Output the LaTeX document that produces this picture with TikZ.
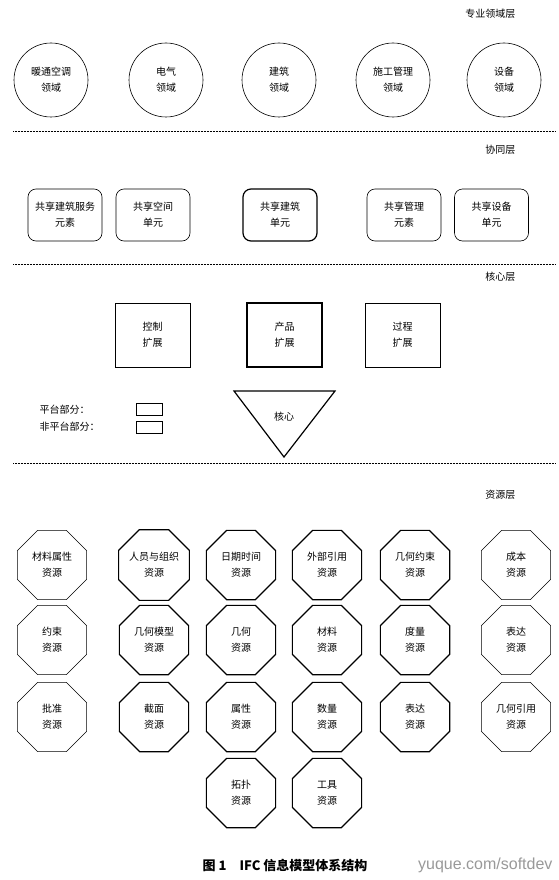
\documentclass[tikz,border=0pt]{standalone}
\usepackage{fontspec}
\setmainfont{Noto Sans CJK SC}
\newfontfamily\markfont{Liberation Sans}
\usetikzlibrary{shapes.geometric}

\begin{document}
\begin{tikzpicture}[x=1pt, y=-1pt,
		every node/.style={font=\fontsize{10}{16}\selectfont, align=center},
		thinline/.style={line width=0.6pt},
		platform/.style={line width=1.2pt},
		fieldcircle/.style={circle, draw, thinline, minimum size=74pt, inner sep=0pt},
		sharebox/.style={draw, thinline, rounded corners=8pt, minimum width=74pt, minimum height=52pt},
		extbox/.style={draw, thinline, minimum width=75pt, minimum height=64pt},
		resbox/.style={regular polygon, regular polygon sides=8, draw, thinline, minimum size=75pt, inner sep=0pt},
		layer/.style={anchor=east},
		divider/.style={line width=0.5pt, dash pattern=on 0.6pt off 0.9pt}]
	\useasboundingbox (0,0) rectangle (558,880);

	% domain layer
	\node[layer] (l-field) at (519,14) {专业领域层};
	\node[fieldcircle] (hvac) at (51,80) {暖通空调\\领域};
	\node[fieldcircle] (elec) at (166,80) {电气\\领域};
	\node[fieldcircle] (arch) at (279,80) {建筑\\领域};
	\node[fieldcircle] (cons) at (393,80) {施工管理\\领域};
	\node[fieldcircle] (equip) at (504,80) {设备\\领域};
	\draw[divider] (13,131) -- (555,131);

	% interoperability layer
	\node[layer] (l-share) at (519,150) {协同层};
	\node[sharebox] (s-service) at (65,215) {共享建筑服务\\元素};
	\node[sharebox] (s-space) at (153,215) {共享空间\\单元};
	\node[sharebox, platform] (s-build) at (280,215) {共享建筑\\单元};
	\node[sharebox] (s-manage) at (404,215) {共享管理\\元素};
	\node[sharebox] (s-equip) at (491.5,215) {共享设备\\单元};
	\draw[divider] (13,264) -- (555,264);

	% core layer
	\node[layer] (l-core) at (519,277) {核心层};
	\node[extbox] (control) at (152.5,335) {控制\\扩展};
	\node[extbox, platform] (product) at (284.5,335) {产品\\扩展};
	\node[extbox] (process) at (402.5,335) {过程\\扩展};
	\coordinate (tri-a) at (234,391);
	\coordinate (tri-b) at (335,391);
	\coordinate (tri-c) at (284,457);
	\draw[platform, line join=miter] (tri-a) -- (tri-b) -- (tri-c) -- cycle;
	\node (kernel) at (284,417) {核心};

	\node[anchor=west] (plat-text) at (36,410) {平台部分：};
	\node[anchor=west] (nonplat-text) at (36,427) {非平台部分：};
	\node[draw, platform, minimum width=26pt, minimum height=12pt, inner sep=0pt] (plat-box) at (149.5,409.5) {};
	\node[draw, thinline, minimum width=26pt, minimum height=12pt, inner sep=0pt] (nonplat-box) at (149.5,427) {};
	\draw[divider] (13,463) -- (555,463);

	% resource layer
	\node[layer] (l-res) at (519,495) {资源层};
	\node[resbox] (r-matprop) at (52,565) {材料属性\\资源};
	\node[resbox, platform] (r-actor) at (154,565) {人员与组织\\资源};
	\node[resbox, platform] (r-date) at (241,565) {日期时间\\资源};
	\node[resbox, platform] (r-extref) at (327,565) {外部引用\\资源};
	\node[resbox, platform] (r-geocon) at (415,565) {几何约束\\资源};
	\node[resbox] (r-cost) at (516,565) {成本\\资源};

	\node[resbox] (r-constraint) at (52,640) {约束\\资源};
	\node[resbox, platform] (r-geomodel) at (154,640) {几何模型\\资源};
	\node[resbox, platform] (r-geometry) at (241,640) {几何\\资源};
	\node[resbox, platform] (r-material) at (327,640) {材料\\资源};
	\node[resbox, platform] (r-measure) at (415,640) {度量\\资源};
	\node[resbox] (r-present) at (516,640) {表达\\资源};

	\node[resbox] (r-approval) at (52,717) {批准\\资源};
	\node[resbox, platform] (r-profile) at (154,717) {截面\\资源};
	\node[resbox, platform] (r-property) at (241,717) {属性\\资源};
	\node[resbox, platform] (r-quantity) at (327,717) {数量\\资源};
	\node[resbox, platform] (r-repr) at (415,717) {表达\\资源};
	\node[resbox] (r-georef) at (516,717) {几何引用\\资源};

	\node[resbox, platform] (r-topo) at (241,793) {拓扑\\资源};
	\node[resbox, platform] (r-utility) at (327,793) {工具\\资源};

	\node (caption) at (285,865) {\fontsize{13}{15}\selectfont\bfseries 图 1\quad IFC 信息模型体系结构};
	\node[anchor=east, text=black!40] (mark) at (556,865) {\markfont\fontsize{16}{18}\selectfont yuque.com/softdev};
\end{tikzpicture}
\end{document}
